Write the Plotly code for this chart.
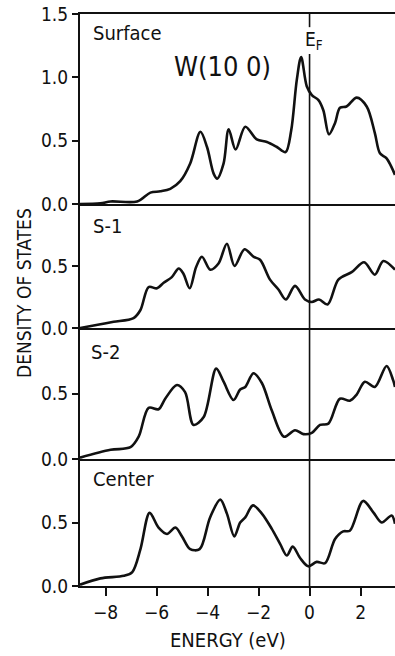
import plotly.graph_objects as go
from plotly.subplots import make_subplots

# ---------------- data ----------------
panel_names = ["Surface", "S-1", "S-2", "Center"]

surf_e = [-9.0, -8.2, -7.8, -6.76, -6.24, -5.85, -5.46, -5.07, -4.68, -4.28, -4.02, -3.76, -3.62,
          -3.37, -3.17, -2.90, -2.52, -2.07, -1.67, -1.28, -0.94, -0.72, -0.50, -0.33, -0.11,
          0.09, 0.35, 0.54, 0.76, 1.0, 1.19, 1.45, 1.85, 2.24, 2.56, 2.76, 3.02, 3.35]
surf_v = [0.0, 0.005, 0.02, 0.02, 0.09, 0.10, 0.12, 0.18, 0.32, 0.57, 0.45, 0.24, 0.20,
          0.32, 0.59, 0.43, 0.61, 0.51, 0.49, 0.45, 0.41, 0.58, 0.98, 1.16, 0.93,
          0.86, 0.82, 0.74, 0.55, 0.64, 0.76, 0.77, 0.84, 0.77, 0.56, 0.40, 0.36, 0.23]

s1_e = [-9.0, -8.2, -7.68, -6.9, -6.63, -6.31, -5.98, -5.72, -5.40, -5.13, -4.95, -4.70, -4.45,
        -4.22, -3.89, -3.57, -3.24, -2.94, -2.55, -2.20, -1.94, -1.55, -1.22, -0.93, -0.57,
        -0.18, 0.09, 0.37, 0.71, 1.13, 1.65, 2.14, 2.56, 2.89, 3.35]
s1_v = [0.0, 0.03, 0.05, 0.08, 0.145, 0.33, 0.32, 0.365, 0.41, 0.48, 0.44, 0.32, 0.49,
        0.575, 0.47, 0.52, 0.68, 0.50, 0.635, 0.575, 0.55, 0.39, 0.31, 0.23, 0.34,
        0.23, 0.21, 0.23, 0.19, 0.39, 0.45, 0.53, 0.43, 0.54, 0.47]

s2_e = [-9.0, -7.8, -7.02, -6.70, -6.31, -5.92, -5.66, -5.20, -4.88, -4.55, -4.15, -3.66, -3.37,
        -2.98, -2.72, -2.52, -2.20, -1.87, -1.48, -1.0, -0.57, -0.24, 0.09, 0.41, 0.74,
        1.19, 1.58, 1.84, 2.17, 2.56, 3.02, 3.28, 3.35]
s2_v = [0.01, 0.07, 0.09, 0.17, 0.39, 0.38, 0.46, 0.565, 0.51, 0.26, 0.32, 0.69, 0.59,
        0.45, 0.53, 0.55, 0.655, 0.58, 0.37, 0.17, 0.22, 0.19, 0.20, 0.26, 0.27,
        0.46, 0.445, 0.49, 0.59, 0.55, 0.71, 0.60, 0.55]

ctr_e = [-9.0, -8.2, -7.28, -6.95, -6.63, -6.27, -5.92, -5.59, -5.26, -5.0, -4.68, -4.31, -3.90,
         -3.50, -3.24, -2.95, -2.72, -2.52, -2.22, -1.87, -1.48, -1.15, -0.89, -0.66, -0.37,
         -0.05, 0.28, 0.61, 1.0, 1.32, 1.58, 2.10, 2.50, 2.83, 3.22, 3.35]
ctr_v = [0.01, 0.06, 0.08, 0.11, 0.29, 0.576, 0.46, 0.41, 0.46, 0.39, 0.29, 0.29, 0.54,
         0.68, 0.57, 0.39, 0.50, 0.54, 0.635, 0.57, 0.45, 0.33, 0.24, 0.31, 0.22,
         0.155, 0.19, 0.18, 0.37, 0.43, 0.435, 0.67, 0.58, 0.50, 0.555, 0.49]

series = [(surf_e, surf_v), (s1_e, s1_v), (s2_e, s2_v), (ctr_e, ctr_v)]
y_ranges = [[0, 1.5], [0, 1.0], [0, 1.0], [0, 1.0]]
y_tickvals = [[0, 0.5, 1.0, 1.5], [0, 0.5], [0, 0.5], [0, 0.5]]
y_ticktext = [["0.0", "0.5", "1.0", "1.5"], ["0.0", "0.5"], ["0.0", "0.5"], ["0.0", "0.5"]]
x_tickvals = [-8, -6, -4, -2, 0, 2]
x_ticktext = ["\u22128", "\u22126", "\u22124", "\u22122", "0", "2"]
x_range = [-9.0, 3.35]

FONT = "DejaVu Sans Condensed, Liberation Sans Narrow, Roboto, sans-serif"

fig = make_subplots(rows=4, cols=1, shared_xaxes=False, vertical_spacing=0,
                    row_heights=[190, 124, 131, 127])

for i, (e, v) in enumerate(series):
    fig.add_trace(go.Scatter(x=e, y=v, mode="lines",
                             line=dict(color="#111", width=2.6, shape="spline", smoothing=0.9),
                             showlegend=False, hoverinfo="skip"), row=i + 1, col=1)
    fig.update_yaxes(row=i + 1, col=1, range=y_ranges[i], tickvals=y_tickvals[i],
                     ticktext=y_ticktext[i], showline=True, linecolor="#111", linewidth=2,
                     ticks="outside", ticklen=6, tickwidth=2, tickcolor="#111",
                     showgrid=False, zeroline=False,
                     tickfont=dict(family=FONT, size=19, color="#111"))
    last = (i == 3)
    fig.update_xaxes(row=i + 1, col=1, range=x_range, showline=True, linecolor="#111",
                     linewidth=2, showgrid=False, zeroline=False,
                     mirror=(i == 0),
                     ticks="outside" if last else "", ticklen=8, tickwidth=2, tickcolor="#111",
                     tickvals=x_tickvals, ticktext=x_ticktext, showticklabels=last,
                     tickfont=dict(family=FONT, size=19, color="#111"))

# Fermi level line (x = 0)
fig.add_shape(type="line", xref="x4", yref="paper", x0=0, x1=0, y0=0, y1=0.930,
              line=dict(color="#111", width=1.6))
fig.add_shape(type="line", xref="x4", yref="paper", x0=0, x1=0, y0=0.977, y1=1.0,
              line=dict(color="#111", width=1.6))

def px(xp):
    return (xp - 80) / 315.0

def py(yp):
    return (586 - yp) / 572.0

anns = [
    dict(text="Surface", x=px(91), y=py(33), xanchor="left", size=20),
    dict(text="S-1", x=px(91), y=py(226), xanchor="left", size=20),
    dict(text="S-2", x=px(89), y=py(352), xanchor="left", size=20),
    dict(text="Center", x=px(91), y=py(479), xanchor="left", size=20),
    dict(text="W(10 0)", x=px(222), y=py(66), xanchor="center", size=27),
    dict(text="E<sub>F</sub>", x=px(314), y=py(41), xanchor="center", size=19),
]
for a in anns:
    fig.add_annotation(text=a["text"], x=a["x"], y=a["y"], xref="paper", yref="paper",
                       xanchor=a["xanchor"], yanchor="middle", showarrow=False,
                       font=dict(family=FONT, size=a["size"], color="#111"))

fig.add_annotation(text="ENERGY (eV)", x=px(228), y=py(640), xref="paper", yref="paper",
                   xanchor="center", yanchor="middle", showarrow=False,
                   font=dict(family=FONT, size=20, color="#111"))
fig.add_annotation(text="DENSITY OF STATES", x=px(24), y=py(293), xref="paper", yref="paper",
                   xanchor="center", yanchor="middle", showarrow=False, textangle=-90,
                   font=dict(family=FONT, size=19, color="#111"))

fig.update_layout(width=395, height=656, margin=dict(l=80, r=0, t=14, b=70),
                  paper_bgcolor="white", plot_bgcolor="white")

fig.write_html("out.html")
